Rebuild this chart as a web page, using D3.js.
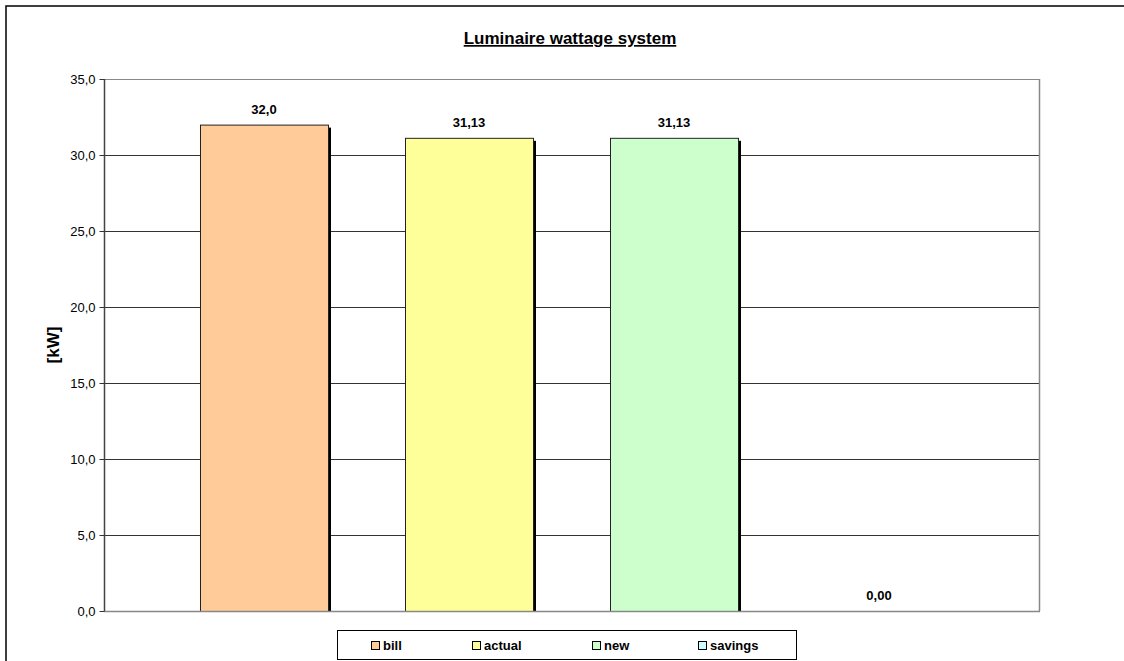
<!DOCTYPE html>
<html><head><meta charset="utf-8">
<script src="https://cdn.jsdelivr.net/npm/d3@7"></script>
<style>body{margin:0;background:#fff}svg{display:block;font-family:Arial,"Liberation Sans",sans-serif}</style>
</head><body><svg id="c" width="1124" height="661"></svg>
<script>
const series = ["bill","actual","new","savings"];
const values = [32.0, 31.13, 31.13, 0.00];
const valueLabels = ["32,0","31,13","31,13","0,00"];
const colors = ["#ffcc99","#ffff99","#ccffcc","#ccffff"];
const yTicks = [0,5,10,15,20,25,30,35];
const title = "Luminaire wattage system";
const yTitle = "[kW]";

const svg = d3.select("#c");
const L=104, R=1039, T=79, B=611;
// outer border
svg.append("rect").attr("x",6).attr("y",6).attr("width",1130).attr("height",670)
  .attr("fill","none").attr("stroke","#000").attr("stroke-width",1.5);

const y = d3.scaleLinear().domain([0,35]).range([B,T]);
const x = d3.scaleBand().domain(series).range([L+57.5,R-57.5]).paddingInner(0.3756).paddingOuter(0.1878);

// grid
svg.append("g").selectAll("line").data(yTicks.filter(d=>d>0)).join("line")
  .attr("x1",L).attr("x2",R).attr("y1",d=>y(d)+0.5).attr("y2",d=>y(d)+0.5)
  .attr("stroke",d=>d===35?"#888":"#333").attr("stroke-width",1);
// plot border right
svg.append("line").attr("x1",R+0.5).attr("x2",R+0.5).attr("y1",T).attr("y2",B)
  .attr("stroke","#888").attr("stroke-width",1.5);

// bars with shadow
const bars = svg.append("g");
series.forEach((s,i)=>{
  const bx=x(s), bw=x.bandwidth(), by=y(values[i]), bh=B-y(values[i]);
  if(bh>0){
    bars.append("rect").attr("x",bx+3).attr("y",by+3).attr("width",bw).attr("height",bh-3).attr("fill","#000");
    bars.append("rect").attr("x",bx+0.5).attr("y",by+0.5).attr("width",bw).attr("height",bh)
      .attr("fill",colors[i]).attr("stroke","#222").attr("stroke-width",1);
  }
  svg.append("text").attr("x",bx+bw/2).attr("y",by-11).attr("text-anchor","middle")
    .attr("font-size","13px").attr("font-weight","bold").text(valueLabels[i]);
});

// bottom line
svg.append("line").attr("x1",L).attr("x2",R+1).attr("y1",B+0.5).attr("y2",B+0.5)
  .attr("stroke","#888").attr("stroke-width",1.5);

// y axis
const ax = svg.append("g").attr("transform",`translate(${L+0.5},0)`)
  .call(d3.axisLeft(y).tickValues(yTicks).tickSize(5).tickPadding(4)
    .tickFormat(d=>d3.format(".1f")(d).replace(".",",")));
ax.select(".domain").attr("stroke","#444").attr("stroke-width",1.5).attr("d",`M0,${T}V${B}`);
ax.selectAll(".tick line").attr("stroke","#333");
ax.selectAll("text").attr("font-size","13px").attr("fill","#000").attr("font-family","Arial,'Liberation Sans',sans-serif");

// y title
svg.append("text").attr("transform","translate(53,345) rotate(-90)").attr("text-anchor","middle")
  .attr("dy","0.35em").attr("font-size","17px").attr("font-weight","bold").text(yTitle);

// title
svg.append("text").attr("x",570).attr("y",44).attr("text-anchor","middle")
  .attr("font-size","17px").attr("font-weight","bold").attr("text-decoration","underline").text(title);

// legend
svg.append("rect").attr("x",337.5).attr("y",630.5).attr("width",459).attr("height",29)
  .attr("fill","#fff").attr("stroke","#000").attr("stroke-width",1);
const lx = [371, 472, 592, 698];
series.forEach((s,i)=>{
  svg.append("rect").attr("x",lx[i]+0.5).attr("y",641.5).attr("width",8).attr("height",8)
    .attr("fill",colors[i]).attr("stroke","#000").attr("stroke-width",1);
  svg.append("text").attr("x",lx[i]+12).attr("y",650).attr("font-size","13px").attr("font-weight","bold").text(s);
});
</script></body></html>
